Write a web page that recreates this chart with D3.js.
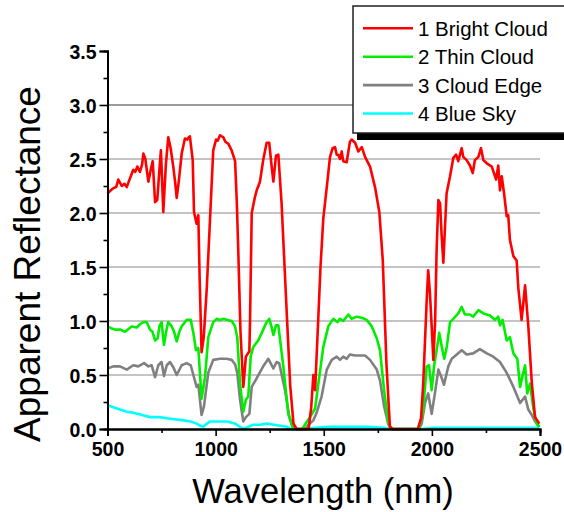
<!DOCTYPE html>
<html>
<head>
<meta charset="utf-8">
<script src="https://cdn.jsdelivr.net/npm/d3@7"></script>
<style>
  body { margin: 0; background: #fff; }
  svg { display: block; font-family: Arial, "Liberation Sans", sans-serif; }
</style>
</head>
<body>
<svg id="chart" width="564" height="512"></svg>
<script>
// wavelength (nm), apparent reflectance
const brightCloud = [
  [500,2.18],[515,2.21],[527,2.23],[540,2.24],[550,2.31],[566,2.25],[578,2.27],[589,2.24],[600,2.30],
  [619,2.40],[628,2.38],[638,2.43],[650,2.38],[660,2.45],[666,2.55],[675,2.50],[689,2.29],[700,2.40],
  [709,2.48],[720,2.10],[730,2.12],[740,2.40],[747,2.58],[758,2.01],[770,2.45],[781,2.70],[792,2.60],
  [804,2.43],[812,2.30],[820,2.14],[830,2.30],[843,2.55],[858,2.69],[869,2.68],[875,2.70],[881,2.71],
  [894,2.49],[900,2.01],[912,1.90],[920,1.98],[926,1.40],[935,0.71],[945,0.85],[959,1.30],[974,1.94],
  [989,2.58],[1002,2.68],[1010,2.67],[1020,2.72],[1036,2.70],[1045,2.66],[1059,2.64],[1074,2.58],
  [1090,2.48],[1098,2.10],[1105,1.63],[1115,0.90],[1128,0.39],[1140,0.67],[1156,0.72],[1159,1.00],
  [1167,2.00],[1182,2.15],[1190,2.21],[1205,2.29],[1220,2.49],[1236,2.65],[1248,2.65],[1258,2.45],
  [1267,2.29],[1279,2.53],[1290,2.54],[1305,2.09],[1329,1.07],[1345,0.40],[1360,0.05],[1375,0],
  [1430,0],[1442,0.20],[1452,0.50],[1460,0.36],[1472,0.90],[1485,1.50],[1498,1.95],[1514,2.24],
  [1529,2.52],[1541,2.60],[1552,2.61],[1560,2.54],[1567,2.54],[1575,2.50],[1583,2.57],[1590,2.48],
  [1606,2.47],[1621,2.66],[1629,2.68],[1645,2.65],[1660,2.57],[1676,2.61],[1691,2.52],[1714,2.43],
  [1737,2.24],[1757,2.01],[1773,1.56],[1790,0.60],[1806,0.02],[1820,0],[1935,0],[1950,0.10],
  [1960,0.42],[1976,1.19],[1983,1.47],[1991,1.26],[2007,0.64],[2015,1.00],[2022,1.66],[2030,2.12],
  [2038,2.09],[2045,1.80],[2053,1.54],[2068,2.18],[2084,2.34],[2099,2.51],[2112,2.54],[2122,2.48],
  [2138,2.60],[2145,2.52],[2161,2.49],[2176,2.44],[2189,2.37],[2199,2.49],[2215,2.52],[2227,2.60],
  [2238,2.49],[2254,2.46],[2277,2.43],[2297,2.31],[2307,2.44],[2315,2.21],[2323,2.34],[2334,2.18],
  [2346,1.97],[2353,1.98],[2361,1.75],[2377,1.60],[2392,1.56],[2400,1.30],[2415,1.01],[2431,1.33],
  [2446,0.95],[2462,0.43],[2477,0.11],[2497,0.05]
];

const thinCloud = [
  [500,0.95],[520,0.93],[535,0.92],[560,0.92],[581,0.90],[600,0.93],[612,0.95],[635,0.94],[650,0.97],
  [666,0.99],[681,0.99],[697,0.92],[708,0.90],[720,0.82],[732,0.84],[740,0.95],[750,0.99],[761,0.78],
  [774,0.93],[781,0.99],[797,0.95],[808,0.90],[820,0.81],[832,0.90],[843,0.95],[866,1.01],[885,1.01],
  [897,0.89],[909,0.73],[920,0.75],[935,0.28],[951,0.48],[966,0.85],[989,0.99],[1005,1.02],[1020,1.01],
  [1036,1.02],[1055,1.01],[1074,1.00],[1090,0.95],[1100,0.85],[1113,0.42],[1128,0.16],[1140,0.27],
  [1151,0.30],[1162,0.67],[1174,0.76],[1197,0.82],[1220,0.92],[1236,0.99],[1248,1.02],[1258,0.95],
  [1267,0.87],[1279,0.96],[1290,0.96],[1313,0.58],[1336,0.14],[1356,0.02],[1370,0],[1400,0],
  [1410,0.03],[1436,0.11],[1460,0.19],[1475,0.42],[1498,0.76],[1521,0.95],[1544,1.02],[1563,0.99],
  [1575,1.02],[1590,1.00],[1614,1.06],[1629,1.02],[1652,1.04],[1676,1.03],[1699,1.01],[1722,0.95],
  [1745,0.84],[1760,0.73],[1779,0.36],[1799,0.05],[1815,0],[1935,0],[1945,0.04],[1960,0.18],[1976,0.58],
  [1987,0.59],[1999,0.36],[2010,0.58],[2022,0.73],[2034,0.89],[2046,0.76],[2057,0.65],[2069,0.76],
  [2084,0.99],[2099,1.02],[2122,1.07],[2138,1.13],[2153,1.06],[2176,1.06],[2191,1.04],[2215,1.10],
  [2238,1.07],[2269,1.05],[2292,1.01],[2307,1.04],[2315,0.96],[2327,1.01],[2346,0.82],[2361,0.85],
  [2377,0.70],[2395,0.65],[2408,0.39],[2420,0.50],[2431,0.59],[2441,0.33],[2454,0.42],[2470,0.18],
  [2485,0.05],[2497,0.02]
];

const cloudEdge = [
  [500,0.56],[527,0.58],[558,0.58],[589,0.55],[619,0.59],[642,0.58],[669,0.61],[689,0.58],[704,0.59],
  [720,0.48],[735,0.59],[750,0.62],[761,0.49],[774,0.59],[789,0.62],[805,0.57],[820,0.50],[843,0.59],
  [866,0.61],[885,0.59],[897,0.50],[912,0.39],[920,0.41],[935,0.13],[946,0.21],[966,0.52],[989,0.64],
  [1020,0.65],[1050,0.65],[1074,0.64],[1090,0.60],[1100,0.52],[1113,0.27],[1128,0.07],[1140,0.11],
  [1156,0.14],[1167,0.39],[1190,0.47],[1220,0.58],[1244,0.65],[1267,0.56],[1282,0.62],[1294,0.61],
  [1321,0.36],[1341,0.11],[1356,0.02],[1370,0],[1415,0],[1429,0.04],[1452,0.08],[1467,0.15],
  [1490,0.30],[1514,0.55],[1537,0.64],[1560,0.67],[1575,0.64],[1590,0.67],[1606,0.65],[1621,0.69],
  [1645,0.68],[1668,0.68],[1691,0.68],[1714,0.64],[1745,0.55],[1760,0.45],[1779,0.21],[1799,0.04],
  [1815,0],[1940,0],[1953,0.05],[1968,0.24],[1983,0.33],[1999,0.14],[2014,0.33],[2030,0.55],
  [2046,0.47],[2056,0.41],[2076,0.58],[2092,0.65],[2115,0.69],[2138,0.73],[2161,0.69],[2191,0.70],
  [2222,0.74],[2254,0.70],[2284,0.67],[2315,0.62],[2346,0.52],[2377,0.39],[2408,0.24],[2431,0.30],
  [2446,0.18],[2462,0.13],[2477,0.07],[2497,0.02]
];

const blueSky = [
  [500,0.22],[530,0.20],[558,0.18],[590,0.16],[619,0.15],[660,0.13],[697,0.11],[740,0.11],[774,0.10],
  [810,0.09],[851,0.08],[885,0.07],[912,0.05],[930,0.03],[943,0.02],[960,0.05],[974,0.07],[1010,0.07],
  [1051,0.07],[1090,0.05],[1113,0.02],[1128,0.00],[1150,0.02],[1174,0.04],[1205,0.04],[1236,0.05],
  [1270,0.04],[1298,0.03],[1330,0.02],[1344,0.00],[1400,0.00],[1460,0.01],[1520,0.02],[1600,0.02],
  [1700,0.02],[1780,0.01],[1820,0.00],[1950,0.00],[2000,0.01],[2100,0.01],[2200,0.01],[2300,0.01],
  [2400,0.01],[2497,0.01]
];

const seriesNames = ["1 Bright Cloud", "2 Thin Cloud", "3 Cloud Edge", "4 Blue Sky"];
const seriesColors = ["#ff0000", "#00ee00", "#808080", "#00ffff"];
const xTicks = [500, 1000, 1500, 2000, 2500];
const xMinorTicks = [750, 1250, 1750, 2250];
const yTicks = [0, 0.5, 1.0, 1.5, 2.0, 2.5, 3.0, 3.5];
const yMinorTicks = [0.25, 0.75, 1.25, 1.75, 2.25, 2.75, 3.25];
const yGrid = [0.5, 1.0, 1.5, 2.0, 2.5, 3.0];

const svg = d3.select("#chart");
const plot = { left: 107.5, right: 540, top: 51, bottom: 429 };

const x = d3.scaleLinear().domain([500, 2500]).range([plot.left, plot.right]);
const y = d3.scaleLinear().domain([0, 3.5]).range([plot.bottom, plot.top]);

// grid lines
svg.append("g")
  .selectAll("line")
  .data(yGrid)
  .join("line")
  .attr("x1", plot.left)
  .attr("x2", plot.right)
  .attr("y1", d => y(d))
  .attr("y2", d => y(d))
  .attr("stroke", d => d === 3.0 ? "#7a7a7a" : "#b0b0b0")
  .attr("stroke-width", 1.6);

// data lines, drawn bottom series first
const line = d3.line().x(d => x(d[0])).y(d => y(d[1]));
const allSeries = [brightCloud, thinCloud, cloudEdge, blueSky];
[3, 2, 1, 0].forEach(i => {
  svg.append("path")
    .datum(allSeries[i])
    .attr("fill", "none")
    .attr("stroke", seriesColors[i])
    .attr("stroke-width", 2.6)
    .attr("stroke-linejoin", "round")
    .attr("d", line);
});

// axes
const yAxis = svg.append("g")
  .attr("transform", `translate(${plot.left},0)`)
  .call(d3.axisLeft(y).tickValues(yTicks).tickSize(8).tickPadding(3).tickFormat(d3.format(".1f")));
svg.append("g")
  .attr("transform", `translate(${plot.left},0)`)
  .call(d3.axisLeft(y).tickValues(yMinorTicks).tickSize(4).tickFormat(""));

const xAxis = svg.append("g")
  .attr("transform", `translate(0,${plot.bottom})`)
  .call(d3.axisBottom(x).tickValues(xTicks).tickSize(7).tickPadding(6).tickFormat(d3.format("d")));
svg.append("g")
  .attr("transform", `translate(0,${plot.bottom})`)
  .call(d3.axisBottom(x).tickValues(xMinorTicks).tickSize(4).tickFormat(""));

svg.selectAll(".domain").attr("stroke", "#000").attr("stroke-width", 2);
svg.selectAll(".tick line").attr("stroke", "#000").attr("stroke-width", 1.6);
svg.selectAll(".tick text")
  .attr("fill", "#000")
  .style("font-size", "19.5px")
  .style("font-weight", "bold")
  .style("font-family", "Arial, 'Liberation Sans', sans-serif");
yAxis.selectAll(".tick text").attr("dy", "0.36em");
xAxis.selectAll(".tick text").attr("dy", "0.72em");

// axis titles
svg.append("text")
  .attr("transform", "translate(40,264) rotate(-90)")
  .attr("text-anchor", "middle")
  .style("font-size", "37px")
  .text("Apparent Reflectance");

svg.append("text")
  .attr("x", 323)
  .attr("y", 503)
  .attr("text-anchor", "middle")
  .style("font-size", "34.5px")
  .text("Wavelength (nm)");

// legend
const legend = svg.append("g");
legend.append("rect")
  .attr("x", 357).attr("y", 133).attr("width", 220).attr("height", 7)
  .attr("fill", "#000");
legend.append("rect")
  .attr("x", 353).attr("y", 6).attr("width", 220).attr("height", 127)
  .attr("fill", "#fff").attr("stroke", "#222").attr("stroke-width", 1.5);

seriesNames.forEach((name, i) => {
  const cy = 28.3 + i * 28.4;
  legend.append("line")
    .attr("x1", 363).attr("x2", 413)
    .attr("y1", cy).attr("y2", cy)
    .attr("stroke", seriesColors[i])
    .attr("stroke-width", 2.6);
  legend.append("text")
    .attr("x", 418)
    .attr("y", cy + 7.7)
    .style("font-size", "20.5px")
    .text(name);
});
</script>
</body>
</html>
